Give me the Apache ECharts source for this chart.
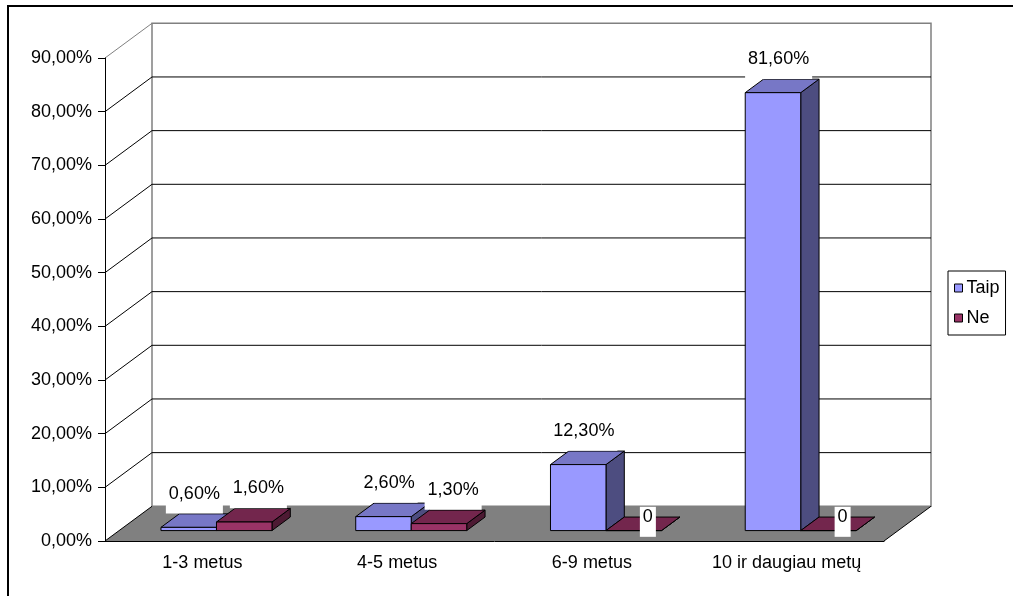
<!DOCTYPE html>
<html>
<head>
<meta charset="utf-8">
<script src="https://cdn.jsdelivr.net/npm/echarts@6/dist/echarts.min.js"></script>
<style>
  html, body { margin: 0; padding: 0; background: #fff; }
  #chart { width: 1013px; height: 596px; }
</style>
</head>
<body>
<div id="chart"></div>
<script>
'use strict';

var categories = ['1-3 metus', '4-5 metus', '6-9 metus', '10 ir daugiau metų'];
var taip = [0.6, 2.6, 12.3, 81.6];
var ne = [1.6, 1.3, 0, 0];
var yTicks = [0, 10, 20, 30, 40, 50, 60, 70, 80, 90];

// 3d look: depth vector of the floor, bars sit between D1 and D2 of it
var DEPTH = [47, -34.7];
var D1 = 0.3, D2 = 0.69;
var BAR_W = 0.285;
var FONT = '18px "Liberation Sans", Arial, sans-serif';

var fmtPct = function(v) {
    return v.toFixed(2).replace('.', ',') + '%';
};
var fmtLabel = function(v) {
    return v === 0 ? '0' : fmtPct(v);
};

var renderWalls = function(params, api) {
    var n = categories.length;
    var bw = api.size([1, 0])[0];
    var L = api.coord([0, 0])[0] - bw / 2;
    var R = api.coord([n - 1, 0])[0] + bw / 2;
    var y0 = api.coord([0, 0])[1];
    var dx = DEPTH[0], dy = DEPTH[1];
    var yMax = api.coord([0, yTicks[yTicks.length - 1]])[1];
    var kids = [];
    kids.push({
        type: 'polygon',
        shape: { points: [[L + dx, yMax + dy], [R + dx, yMax + dy], [R + dx, y0 + dy], [L + dx, y0 + dy]] },
        style: { fill: '#fff', stroke: '#808080', lineWidth: 1.5 }
    });
    kids.push({
        type: 'polygon',
        shape: { points: [[L, y0], [L + dx, y0 + dy], [R + dx, y0 + dy], [R, y0]] },
        style: { fill: '#808080' }
    });
    yTicks.forEach(function(v, i) {
        var y = api.coord([0, v])[1];
        var pts;
        if (i === 0 || i === yTicks.length - 1) pts = [[L, y], [L + dx, y + dy]];
        else pts = [[L, y], [L + dx, y + dy], [R + dx, y + dy]];
        kids.push({
            type: 'polyline',
            shape: { points: pts },
            style: { stroke: i === yTicks.length - 1 ? '#808080' : '#000', lineWidth: 1, fill: null }
        });
    });
    kids.push({
        type: 'line',
        shape: { x1: R, y1: y0, x2: R + dx, y2: y0 + dy },
        style: { stroke: '#000', lineWidth: 1 }
    });
    return { type: 'group', children: kids };
};

var makeBar = function(side, pal, labelDx) {
    return function(params, api) {
        var cat = api.value(0), val = api.value(1);
        var base = api.coord([cat, 0]);
        var top = api.coord([cat, val]);
        var bw = api.size([1, 0])[0];
        var w = bw * BAR_W;
        var x0 = side === 0 ? base[0] - w : base[0];
        var x1 = x0 + w;
        var sx = DEPTH[0] * D1, sy = DEPTH[1] * D1;
        var ex = DEPTH[0] * D2, ey = DEPTH[1] * D2;
        var yb = base[1], yt = top[1];
        var edge = { stroke: '#000', lineWidth: 1, lineJoin: 'round' };
        var midY = yt + DEPTH[1] * (D1 + D2) / 2;
        var textY = val === 0 ? midY - 7 : midY - 27;
        return {
            type: 'group',
            children: [
                {
                    type: 'polygon',
                    shape: { points: [[x1 + sx, yt + sy], [x1 + ex, yt + ey], [x1 + ex, yb + ey], [x1 + sx, yb + sy]] },
                    style: Object.assign({ fill: pal[2] }, edge)
                },
                {
                    type: 'polygon',
                    shape: { points: [[x0 + sx, yt + sy], [x0 + ex, yt + ey], [x1 + ex, yt + ey], [x1 + sx, yt + sy]] },
                    style: Object.assign({ fill: pal[1] }, edge)
                },
                {
                    type: 'polygon',
                    shape: { points: [[x0 + sx, yt + sy], [x1 + sx, yt + sy], [x1 + sx, yb + sy], [x0 + sx, yb + sy]] },
                    style: Object.assign({ fill: pal[0] }, edge)
                },
                {
                    type: 'text',
                    z2: 100,
                    style: {
                        text: fmtLabel(val),
                        x: base[0] + labelDx,
                        y: textY - 10,
                        align: 'center',
                        verticalAlign: 'top',
                        font: FONT,
                        lineHeight: 20,
                        fill: '#000',
                        backgroundColor: '#fff',
                        padding: [0, 3, 10, 3]
                    }
                }
            ]
        };
    };
};

var myChart = echarts.init(document.getElementById('chart'), null, { renderer: 'canvas' });

var option = {
    backgroundColor: '#fff',
    animation: false,
    textStyle: { fontFamily: '"Liberation Sans", Arial, sans-serif' },
    graphic: [{
        type: 'rect',
        shape: { x: 8, y: 6, width: 1010, height: 600 },
        style: { fill: null, stroke: '#000', lineWidth: 2 },
        silent: true
    }],
    grid: { left: 105, top: 58, width: 779, height: 483, containLabel: false },
    legend: {
        orient: 'vertical',
        left: 948,
        top: 271,
        padding: [8, 6, 8, 6],
        itemGap: 12,
        itemWidth: 8,
        itemHeight: 8,
        itemStyle: { borderColor: '#000', borderWidth: 1 },
        borderColor: '#000',
        borderWidth: 1,
        borderRadius: 0,
        textStyle: { fontSize: 18, color: '#000', padding: [0, 0, 0, -1] },
        data: [
            { name: 'Taip', icon: 'rect', itemStyle: { color: '#9999FF' } },
            { name: 'Ne', icon: 'rect', itemStyle: { color: '#993366' } }
        ]
    },
    xAxis: {
        type: 'category',
        data: categories,
        z: 5,
        boundaryGap: true,
        axisLine: { lineStyle: { color: '#000', width: 1 } },
        axisTick: { length: 6, lineStyle: { color: '#000' } },
        axisLabel: { fontSize: 18, color: '#000', margin: 13 },
        splitLine: { show: false }
    },
    yAxis: {
        type: 'value',
        min: 0,
        max: 90,
        interval: 10,
        z: 5,
        axisLine: { show: true, lineStyle: { color: '#000', width: 1 } },
        axisTick: { show: true, length: 7, lineStyle: { color: '#000' } },
        axisLabel: { fontSize: 18, color: '#000', margin: 13, formatter: fmtPct },
        splitLine: { show: false }
    },
    series: [
        {
            type: 'custom',
            name: 'walls',
            z: 1,
            silent: true,
            renderItem: renderWalls,
            data: [[0, 0]]
        },
        {
            type: 'custom',
            name: 'Taip',
            z: 2,
            itemStyle: { color: '#9999FF' },
            renderItem: makeBar(0, ['#9999FF', '#7777C6', '#4D4D80'], -8),
            data: taip.map(function(v, i) { return [i, v]; })
        },
        {
            type: 'custom',
            name: 'Ne',
            z: 2,
            itemStyle: { color: '#993366' },
            renderItem: makeBar(1, ['#993366', '#73264D', '#4D1A33'], 56),
            data: ne.map(function(v, i) { return [i, v]; })
        }
    ]
};

myChart.setOption(option);
</script>
</body>
</html>
